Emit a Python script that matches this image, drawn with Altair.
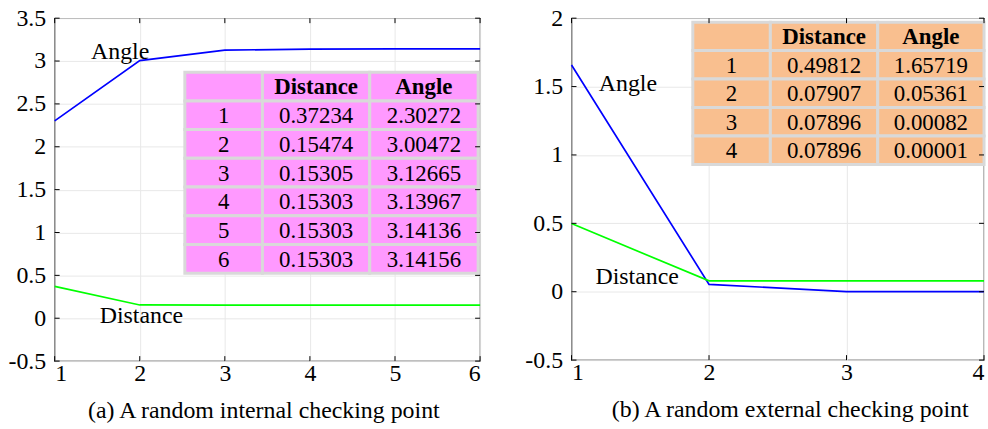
import altair as alt
import pandas as pd

FONT = "Liberation Serif"

# ---------------- data ----------------
iters_a = [1, 2, 3, 4, 5, 6]
distance_a = [0.37234, 0.15474, 0.15305, 0.15303, 0.15303, 0.15303]
angle_a = [2.30272, 3.00472, 3.12665, 3.13967, 3.14136, 3.14156]

iters_b = [1, 2, 3, 4]
distance_b = [0.49812, 0.07907, 0.07896, 0.07896]
angle_b = [1.65719, 0.05361, 0.00082, 0.00001]

series_names = ["Angle", "Distance"]
table_header = ["", "Distance", "Angle"]

yticks_a = [-0.5, 0, 0.5, 1, 1.5, 2, 2.5, 3, 3.5]
yticks_b = [-0.5, 0, 0.5, 1, 1.5, 2]

caption_a = "(a) A random internal checking point"
caption_b = "(b) A random external checking point"

# ---------------- layout / style (data units of each panel) ----------------
layout_a = dict(
    width=428, height=345, ydom=[-0.5, 3.5],
    tcols=[2.53, 3.442, 4.703, 5.977], trows=(2.870, 0.526),
    fill="#ff99ff",
    labels=[("Angle", 1.77, 3.02), ("Distance", 2.02, -0.057)],
    title_dx=-4,
)
layout_b = dict(
    width=415, height=344, ydom=[-0.5, 2.0],
    tcols=[1.882, 2.446, 3.227, 4.0], trows=(1.971, 0.931),
    fill="#f9bf8f",
    labels=[("Angle", 1.41, 1.47), ("Distance", 1.477, 0.056)],
    title_dx=12,
)

AX_FS = 24
TB_FS = 23


def panel(iters, dist, ang, yticks, caption, L):
    w, h = L["width"], L["height"]
    xs = alt.Scale(domain=[iters[0], iters[-1]], nice=False, zero=False)
    ys = alt.Scale(domain=L["ydom"], nice=False, zero=False)

    xaxis = alt.Axis(
        values=iters, title=caption, labelFont=FONT, labelFontSize=AX_FS,
        labelColor="black", ticks=False, tickSize=0, labelPadding=1,
        domain=False, grid=True, gridColor="#e8e8e8",
        titleFont=FONT, titleFontSize=AX_FS, titleFontWeight="normal",
        titleColor="black", titlePadding=13, titleX=w / 2 + L["title_dx"],
        labelFlush=True,
    )
    yaxis = alt.Axis(
        values=yticks, title=None, labelExpr="'' + datum.value",
        labelFont=FONT, labelFontSize=AX_FS, labelColor="black",
        ticks=False, tickSize=0, labelPadding=9, domain=False,
        grid=True, gridColor="#e8e8e8",
    )

    def X(f):
        return alt.X(f, scale=xs, axis=xaxis, title=caption)

    def Y(f):
        return alt.Y(f, scale=ys, axis=yaxis, title=None)

    n = len(iters)
    lines_df = pd.DataFrame({
        "it": iters + iters,
        "v": ang + dist,
        "s": [series_names[0]] * n + [series_names[1]] * n,
    })
    lines = alt.Chart(lines_df).mark_line(strokeWidth=1.7).encode(
        x=X("it:Q"),
        y=Y("v:Q"),
        color=alt.Color("s:N", scale=alt.Scale(domain=series_names,
                                               range=["#0000ff", "#00ff00"]),
                        legend=None),
    )

    # table cells
    tc = L["tcols"]
    ytop, ybot = L["trows"]
    nrows = n + 1
    rh = (ytop - ybot) / nrows
    rows = [table_header] + [[str(i), f"{d:.5f}", f"{a:.5f}"]
                             for i, d, a in zip(iters, dist, ang)]
    cells = []
    for r, row in enumerate(rows):
        for c, txt in enumerate(row):
            cells.append(dict(
                x0=tc[c], x1=tc[c + 1],
                y0=ytop - r * rh, y1=ytop - (r + 1) * rh,
                xc=(tc[c] + tc[c + 1]) / 2, yc=ytop - (r + 0.5) * rh,
                t=txt, hdr=(r == 0),
            ))
    cells_df = pd.DataFrame(cells)
    rects = alt.Chart(cells_df).mark_rect(
        fill=L["fill"], stroke="#d9d9d9", strokeWidth=3
    ).encode(
        x=X("x0:Q"), x2="x1:Q",
        y=Y("y0:Q"), y2="y1:Q",
    )
    body = alt.Chart(cells_df).transform_filter("!datum.hdr").mark_text(
        font=FONT, fontSize=TB_FS, color="black", baseline="middle", dy=1
    ).encode(x=X("xc:Q"), y=Y("yc:Q"), text="t:N")
    head = alt.Chart(cells_df).transform_filter("datum.hdr").mark_text(
        font=FONT, fontSize=TB_FS, fontWeight="bold", color="black",
        baseline="middle", dy=1
    ).encode(x=X("xc:Q"), y=Y("yc:Q"), text="t:N")

    lab_df = pd.DataFrame(L["labels"], columns=["t", "x", "y"])
    labels = alt.Chart(lab_df).mark_text(
        font=FONT, fontSize=AX_FS, color="black", baseline="alphabetic"
    ).encode(x=X("x:Q"), y=Y("y:Q"), text="t:N")

    # inward ticks on all four sides
    xt = pd.DataFrame({"v": iters})
    yt = pd.DataFrame({"v": yticks})
    tk = dict(color="black", strokeWidth=1)
    ticks = [
        alt.Chart(xt).mark_rule(**tk).encode(
            x=X("v:Q"), y=alt.value(h), y2=alt.value(h - 5)),
        alt.Chart(xt).mark_rule(**tk).encode(
            x=X("v:Q"), y=alt.value(0), y2=alt.value(5)),
        alt.Chart(yt).mark_rule(**tk).encode(
            y=Y("v:Q"), x=alt.value(0), x2=alt.value(5)),
        alt.Chart(yt).mark_rule(**tk).encode(
            y=Y("v:Q"), x=alt.value(w), x2=alt.value(w - 5)),
    ]

    return alt.layer(lines, rects, body, head, labels, *ticks).properties(
        width=w, height=h
    )


left = panel(iters_a, distance_a, angle_a, yticks_a, caption_a, layout_a)
right = panel(iters_b, distance_b, angle_b, yticks_b, caption_b, layout_b)

chart = alt.hconcat(left, right, spacing=40).properties(
    padding={"left": 7, "top": 4, "right": 0, "bottom": 0},
    background="white",
).configure_view(stroke="black", strokeWidth=1.2)

chart.save("out.html", embed_options={"renderer": "svg", "actions": False})
